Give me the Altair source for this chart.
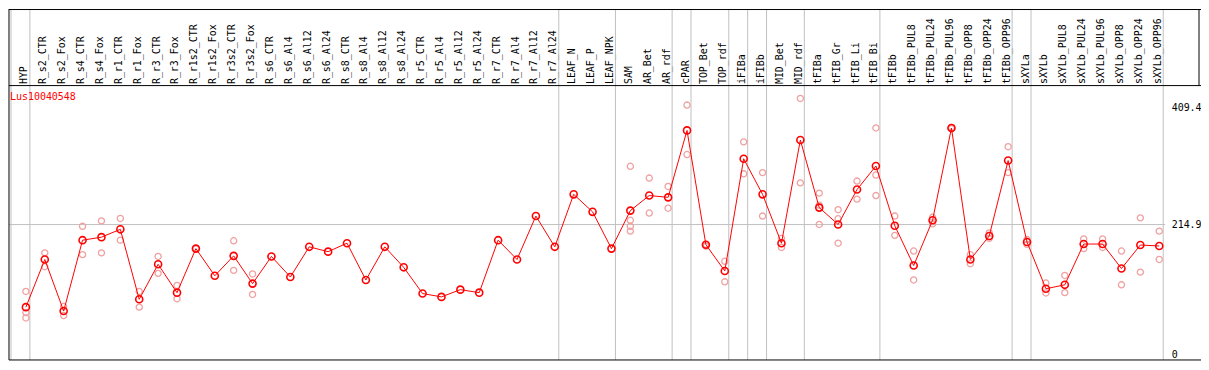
import json
import altair as alt
import pandas as pd

categories = [
    "HYP", "R_s2_CTR", "R_s2_Fox", "R_s4_CTR", "R_s4_Fox", "R_r1_CTR", "R_r1_Fox",
    "R_r3_CTR", "R_r3_Fox", "R_r1s2_CTR", "R_r1s2_Fox", "R_r3s2_CTR", "R_r3s2_Fox",
    "R_s6_CTR", "R_s6_Al4", "R_s6_Al12", "R_s6_Al24", "R_s8_CTR", "R_s8_Al4",
    "R_s8_Al12", "R_s8_Al24", "R_r5_CTR", "R_r5_Al4", "R_r5_Al12", "R_r5_Al24",
    "R_r7_CTR", "R_r7_Al4", "R_r7_Al12", "R_r7_Al24", "LEAF_N", "LEAF_P", "LEAF_NPK",
    "SAM", "AR_Bet", "AR_rdf", "cPAR", "TOP_Bet", "TOP_rdf", "iFIBa", "iFIBb",
    "MID_Bet", "MID_rdf", "tFIBa", "tFIB_Gr", "tFIB_Li", "tFIB_Bi", "tFIBb",
    "tFIBb_PUL8", "tFIBb_PUL24", "tFIBb_PUL96", "tFIBb_OPP8", "tFIBb_OPP24",
    "tFIBb_OPP96", "sXYLa", "sXYLb", "sXYLb_PUL8", "sXYLb_PUL24", "sXYLb_PUL96",
    "sXYLb_OPP8", "sXYLb_OPP24", "sXYLb_OPP96",
]

means = [
    78, 157, 71.5, 189, 194, 207, 91, 149, 102, 175, 130, 163, 117,
    162, 128, 178, 170, 184, 123, 178, 144, 100.5, 95, 107, 102,
    189, 157, 229, 178, 265, 236, 175,
    238, 263, 260, 371, 181.5, 138, 324, 265, 184, 355,
    243, 215, 273, 312, 213, 147, 222, 375, 157, 196, 321,
    186, 108.5, 115, 182.6, 182.6, 142, 181, 179.4,
]

replicates = [
    [104, 69, 60], [168, 145], [79, 64], [212, 165], [221, 168], [225, 189],
    [104, 78], [162, 134], [114, 92], [175], [], [188, 139], [133, 99],
    [], [], [], [], [], [], [], [], [], [], [], [],
    [], [], [], [], [], [], [],
    [311.5, 222, 212, 204], [292, 234], [278, 242], [413, 331], [182, 179],
    [154, 120], [352, 299], [301, 229], [192, 177], [424, 284],
    [267, 247, 215], [239.5, 224.5, 184], [287, 257], [375, 297, 263],
    [229, 197], [171, 123], [227, 216], [376, 374], [165, 150], [201, 192],
    [344, 301],
    [190, 182], [118, 101.5], [130.5, 102], [191, 175], [191, 177],
    [171, 115], [226, 136], [204, 157],
]

# group separators: drawn before these category indices
group_starts = [0, 1, 29, 32, 35, 36, 38, 39, 40, 42, 46, 53, 54, 61]

y_ticks = [0, 214.9, 409.4]
ref_line = [214.9]
gene = "Lus10040548"

W, H = 1161, 276
TOP = 77
FONT = "DejaVu Sans Mono"

mean_df = pd.DataFrame({"idx": list(range(len(categories))), "v": means,
                        "cat": categories})
rep_rows = []
for i, reps in enumerate(replicates):
    for r in reps:
        rep_rows.append({"idx": i, "v": r})
rep_df = pd.DataFrame(rep_rows)
sep_df = pd.DataFrame({"pos": [g - 0.789 for g in group_starts]})
ref_df = pd.DataFrame({"v": ref_line})
one = pd.DataFrame({"a": [0]})

xscale = alt.Scale(domain=[-0.8947, 60.2105], nice=False, zero=False)
yscale = alt.Scale(domain=[-9.6, 445.3], nice=False, zero=False)

label_expr = json.dumps(categories) + "[datum.value]"
xaxis = alt.Axis(orient="top", values=list(range(len(categories))),
                 labelExpr=label_expr, labelAngle=270, labelAlign="left",
                 labelBaseline="middle", labelPadding=2, labelOffset=-2,
                 ticks=False, domain=False, grid=False, title=None,
                 labelFont=FONT, labelFontSize=10, labelColor="black",
                 labelOverlap=False, labelBound=False, labelFlush=False)
yaxis = alt.Axis(orient="right", values=y_ticks,
                 labelExpr="datum.value == 0 ? '0' : format(datum.value, '.1f')",
                 ticks=False, domain=False, grid=False, title=None,
                 labelPadding=8, labelAlign="left", labelBaseline="middle",
                 labelFont=FONT, labelFontSize=10, labelColor="black",
                 labelOverlap=False, labelFlush=False)


def X(field):
    return alt.X(field, type="quantitative", scale=xscale, axis=xaxis)


def Y(field):
    return alt.Y(field, type="quantitative", scale=yscale, axis=yaxis)


seps = alt.Chart(sep_df).mark_rule(color="#c0c0c0", strokeWidth=1).encode(
    x=X("pos"), y=alt.value(-TOP), y2=alt.value(H))

hline = alt.Chart(ref_df).mark_rule(color="#c0c0c0", strokeWidth=1).encode(
    y=Y("v"), x=alt.value(0), x2=alt.value(W + 2))

reps = alt.Chart(rep_df).mark_point(shape="circle", filled=False, size=38,
                                    strokeWidth=1.3, color="#f0a0a0",
                                    opacity=1).encode(x=X("idx"), y=Y("v"))

line = alt.Chart(mean_df).mark_line(color="#ff0000", strokeWidth=1).encode(
    x=X("idx"), y=Y("v"))

pts = alt.Chart(mean_df).mark_point(shape="circle", filled=False, size=50,
                                    strokeWidth=1.6, color="#ff0000",
                                    opacity=1).encode(x=X("idx"), y=Y("v"))

title = alt.Chart(one).mark_text(text=gene, color="#ff0000", font=FONT,
                                 fontSize=10, align="left",
                                 baseline="middle").encode(
    x=alt.value(1), y=alt.value(12))

frame_top = alt.Chart(one).mark_rule(color="black", strokeWidth=1).encode(
    x=alt.value(0), x2=alt.value(W + 40), y=alt.value(-TOP + 0.5))
frame_mid = alt.Chart(one).mark_rule(color="black", strokeWidth=1).encode(
    x=alt.value(0), x2=alt.value(W + 40), y=alt.value(0))
frame_bot = alt.Chart(one).mark_rule(color="black", strokeWidth=1).encode(
    x=alt.value(0), x2=alt.value(W + 40), y=alt.value(H))
frame_left = alt.Chart(one).mark_rule(color="black", strokeWidth=1).encode(
    x=alt.value(0), y=alt.value(-TOP), y2=alt.value(H))
frame_right = alt.Chart(one).mark_rule(color="black", strokeWidth=1).encode(
    x=alt.value(W + 36), y=alt.value(-TOP), y2=alt.value(0))

chart = alt.layer(
    seps, hline, frame_top, frame_mid, frame_bot, frame_left, frame_right,
    reps, line, pts, title,
).properties(
    width=W, height=H,
    autosize=alt.AutoSizeParams(type="none"),
    padding={"left": 1, "top": TOP, "right": 38, "bottom": 1},
    background="white",
).configure_view(stroke=None)

chart.save("out.html", embed_options={"renderer": "svg", "actions": False})
